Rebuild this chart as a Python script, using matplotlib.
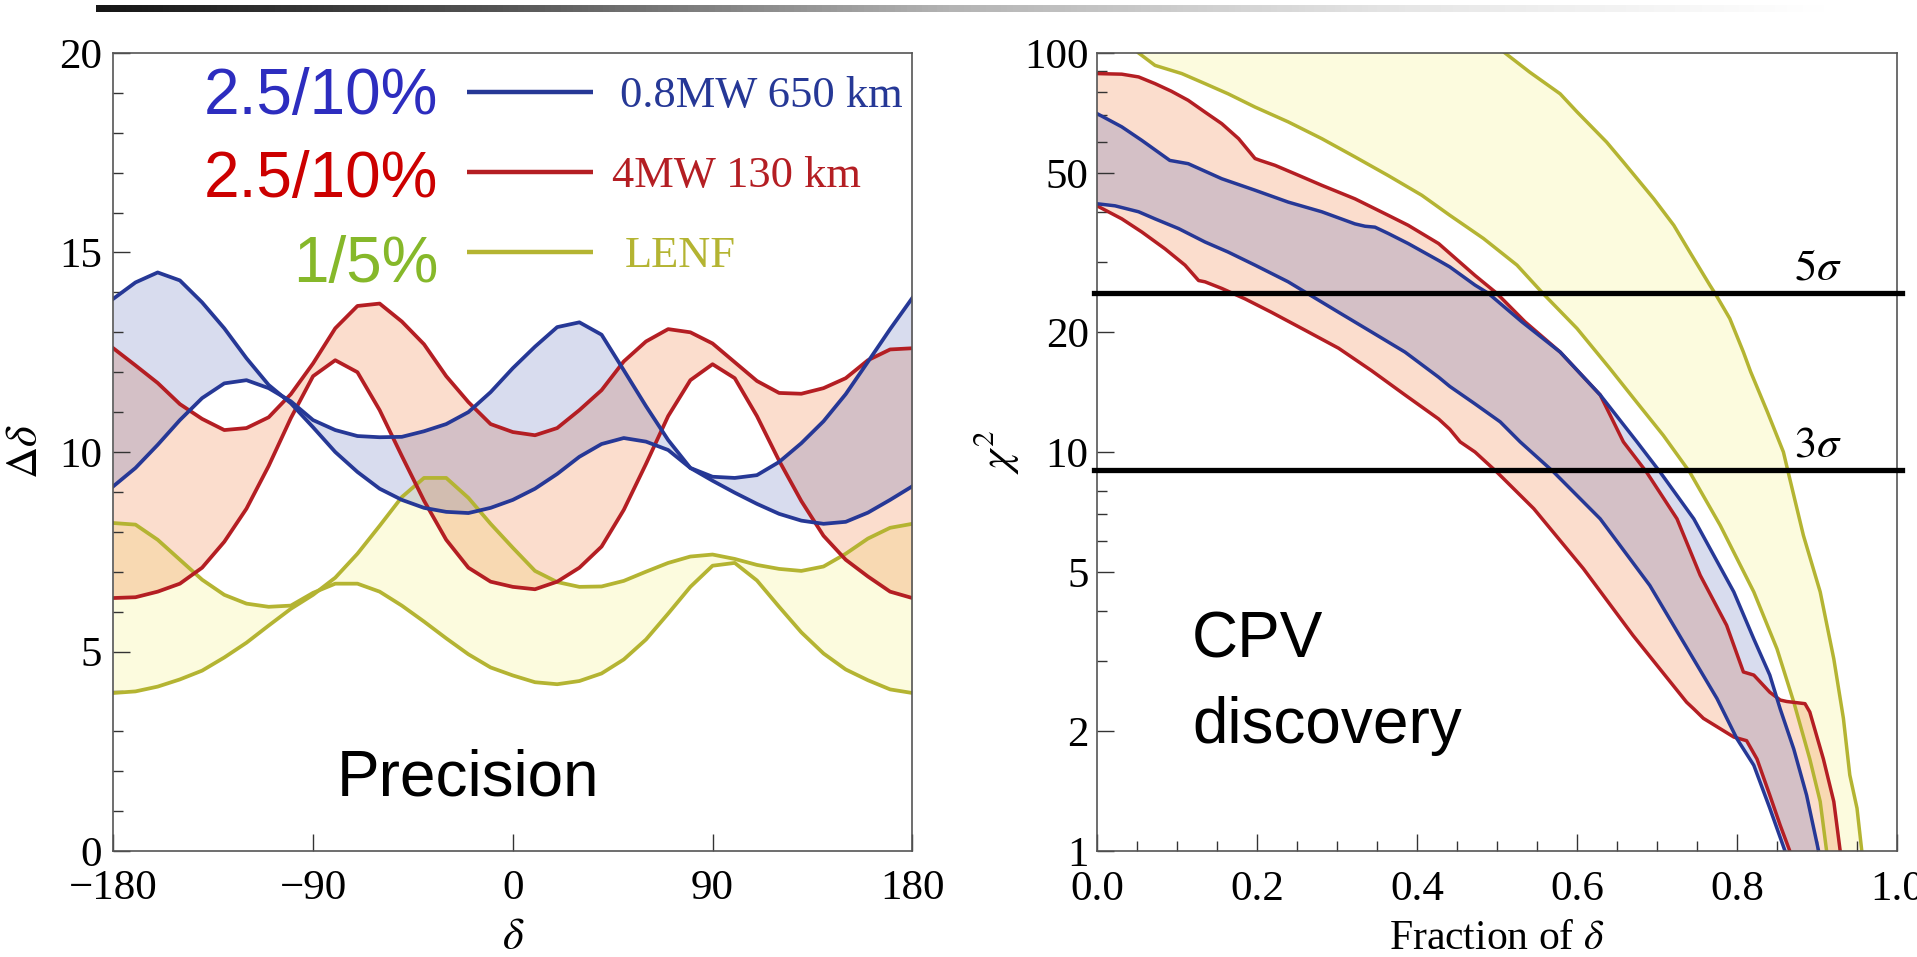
import numpy as np
import matplotlib
matplotlib.use('Agg')
import matplotlib.pyplot as plt
import matplotlib.transforms as mtransforms
from matplotlib.colors import LinearSegmentedColormap
from matplotlib.ticker import NullFormatter

plt.rcParams['font.family'] = ['Liberation Serif', 'DejaVu Serif']
plt.rcParams['mathtext.fontset'] = 'stix'

# ---------------- left panel: precision on delta ----------------
delta = [-180, -170, -160, -150, -140, -130, -120, -110, -100, -90, -80, -70, -60,
         -50, -40, -30, -20, -10, 0, 10, 20, 30, 40, 50, 60, 70, 80, 90, 100,
         110, 120, 130, 140, 150, 160, 170, 180]

# 0.8MW 650 km (blue band)
blue_a = [13.84, 14.25, 14.5, 14.3, 13.75, 13.1, 12.35, 11.68, 11.22, 10.62, 10.0, 9.5, 9.08,
          8.8, 8.6, 8.5, 8.47, 8.6, 8.8, 9.08, 9.45, 9.88, 10.2, 10.35, 10.26, 10.05, 9.6, 9.28, 8.98,
          8.7, 8.45, 8.28, 8.2, 8.25, 8.48, 8.8, 9.14]
blue_b = [9.14, 9.6, 10.18, 10.8, 11.35, 11.72, 11.8, 11.6, 11.27, 10.8, 10.55, 10.4, 10.37,
          10.38, 10.52, 10.7, 11.0, 11.5, 12.1, 12.64, 13.13, 13.25, 12.94, 12.05, 11.15, 10.3, 9.6, 9.38, 9.35,
          9.42, 9.75, 10.22, 10.77, 11.45, 12.26, 13.08, 13.86]

# 4MW 130 km (red band)
red_c = [12.6, 12.17, 11.73, 11.2, 10.83, 10.55, 10.6, 10.87, 11.45, 12.22, 13.1, 13.66, 13.72,
         13.27, 12.7, 11.9, 11.25, 10.7, 10.5, 10.42, 10.6, 11.05, 11.55, 12.27, 12.77, 13.08, 13.0, 12.72, 12.25,
         11.78, 11.48, 11.46, 11.6, 11.85, 12.3, 12.57, 12.6]
red_d = [6.34, 6.36, 6.5, 6.7, 7.1, 7.75, 8.58, 9.65, 10.85, 11.9, 12.3, 12.0, 11.05,
         9.9, 8.78, 7.8, 7.1, 6.75, 6.62, 6.56, 6.75, 7.1, 7.63, 8.55, 9.7, 10.9, 11.8, 12.2, 11.85,
         10.9, 9.78, 8.77, 7.9, 7.3, 6.88, 6.5, 6.34]

# LENF (yellow band)
yel_p = [3.96, 4.0, 4.12, 4.3, 4.52, 4.85, 5.22, 5.65, 6.07, 6.42, 6.85, 7.45, 8.15,
         8.87, 9.35, 9.35, 8.85, 8.2, 7.6, 7.02, 6.74, 6.62, 6.63, 6.77, 7.0, 7.22, 7.38, 7.43, 7.32,
         7.17, 7.07, 7.02, 7.13, 7.45, 7.83, 8.1, 8.2]
yel_q = [8.22, 8.18, 7.8, 7.3, 6.8, 6.42, 6.2, 6.12, 6.15, 6.47, 6.7, 6.7, 6.5,
         6.15, 5.75, 5.33, 4.93, 4.6, 4.4, 4.23, 4.18, 4.26, 4.45, 4.8, 5.3, 5.95, 6.62, 7.15, 7.22,
         6.78, 6.12, 5.48, 4.95, 4.55, 4.28, 4.05, 3.96]

# ---------------- right panel: CPV discovery ----------------
red_hi_x = [0.0, 0.031, 0.052, 0.0725, 0.093, 0.114, 0.135, 0.156, 0.177, 0.1975, 0.204, 0.2225,
            0.2475, 0.281, 0.3225, 0.364, 0.389, 0.427, 0.4725, 0.4996, 0.535, 0.579, 0.629, 0.658,
            0.687, 0.725, 0.754, 0.787, 0.808, 0.821, 0.841, 0.854, 0.862, 0.885, 0.891, 0.908,
            0.921, 0.929]
red_hi_y = [88.8, 88.5, 87.1, 83.8, 80.2, 76.1, 71.1, 66.5, 61.0, 54.4, 53.8, 52.3,
            49.8, 46.6, 43.1, 39.2, 37.0, 33.3, 27.7, 25.0, 21.2, 17.8, 13.9, 10.6,
            8.9, 6.8, 4.91, 3.68, 2.81, 2.76, 2.5, 2.39, 2.37, 2.34, 2.23, 1.7,
            1.33, 1.0]
red_lo_x = [0.0, 0.031, 0.056, 0.085, 0.11, 0.127, 0.135, 0.156, 0.185, 0.218, 0.26, 0.302,
            0.343, 0.385, 0.427, 0.441, 0.454, 0.4725, 0.5, 0.546, 0.608, 0.67, 0.737, 0.746,
            0.758, 0.796, 0.812, 0.825, 0.841, 0.854, 0.866]
red_lo_y = [41.4, 38.4, 35.6, 32.3, 29.4, 26.9, 26.7, 25.7, 24.2, 22.4, 20.2, 18.2,
            16.0, 13.9, 12.1, 11.4, 10.6, 10.0, 8.9, 7.21, 5.1, 3.47, 2.36, 2.27,
            2.15, 1.93, 1.89, 1.7, 1.38, 1.16, 1.0]
blue_hi_x = [0.0, 0.031, 0.056, 0.091, 0.114, 0.156, 0.1975, 0.239, 0.281, 0.3225, 0.335, 0.3475,
             0.364, 0.389, 0.427, 0.441, 0.4725, 0.489, 0.531, 0.579, 0.629, 0.675, 0.704, 0.746,
             0.796, 0.821, 0.841, 0.854, 0.871, 0.887, 0.902]
blue_hi_y = [70.5, 65.3, 60.4, 53.8, 52.8, 48.4, 45.3, 42.3, 40.0, 37.3, 36.8, 36.6,
             35.3, 33.3, 30.2, 29.1, 26.2, 25.0, 21.2, 17.8, 13.9, 10.6, 8.9, 6.8,
             4.46, 3.4, 2.76, 2.27, 1.8, 1.38, 1.0]
blue_lo_x = [0.0, 0.0225, 0.052, 0.0725, 0.102, 0.135, 0.164, 0.1975, 0.239, 0.264, 0.302, 0.343,
             0.385, 0.427, 0.441, 0.4725, 0.504, 0.529, 0.571, 0.629, 0.691, 0.733, 0.775, 0.8,
             0.821, 0.841, 0.86]
blue_lo_y = [41.9, 41.4, 40.0, 38.4, 36.3, 33.6, 31.7, 29.4, 26.7, 24.9, 22.4, 20.0,
             17.8, 15.4, 14.6, 13.2, 11.9, 10.6, 8.9, 6.8, 4.63, 3.34, 2.41, 1.91,
             1.64, 1.28, 1.0]
yel_in_x = [0.052, 0.0725, 0.106, 0.135, 0.164, 0.1975, 0.239, 0.281, 0.3225, 0.364, 0.406, 0.441,
            0.483, 0.525, 0.558, 0.6, 0.641, 0.675, 0.708, 0.741, 0.779, 0.821, 0.85, 0.871,
            0.891, 0.904, 0.912]
yel_in_y = [100, 93.1, 88.8, 83.8, 79.0, 73.2, 67.2, 61.0, 54.9, 49.3, 44.0, 39.2,
            34.3, 29.4, 24.9, 20.4, 16.2, 13.3, 11.0, 8.9, 6.55, 4.46, 3.21, 2.36,
            1.7, 1.33, 1.0]
yel_out_x = [0.51, 0.541, 0.579, 0.6, 0.637, 0.658, 0.696, 0.721, 0.741, 0.766, 0.773, 0.791,
             0.808, 0.817, 0.838, 0.858, 0.864, 0.883, 0.904, 0.921, 0.933, 0.941, 0.95, 0.956]
yel_out_y = [100, 89.5, 79.0, 71.2, 59.8, 53.3, 43.1, 37.0, 31.7, 26.2, 24.9, 21.6,
             17.8, 15.9, 12.6, 10.0, 8.9, 6.18, 4.46, 3.03, 2.15, 1.55, 1.28, 1.0]

sigma_levels = [25, 9]
sigma_labels = ['$5\\sigma$', '$3\\sigma$']

legend_big = ['2.5/10%', '2.5/10%', '1/5%']
legend_small = ['0.8MW 650 km', '4MW 130 km', 'LENF']

# colours
blue_line, red_line, yel_line = '#263896', '#b41e23', '#b4b432'
blue_fill, red_fill, yel_fill = '#3c50aa', '#eb5505', '#f0eb5a'
big_colors = ['#2d2dbf', '#cc0000', '#86b82a']
small_colors = [blue_line, red_line, yel_line]
frame = '#555555'

W, H = 1917, 957
fig = plt.figure(figsize=(W / 100, H / 100), dpi=100)

# gradient bar on top
grad = LinearSegmentedColormap.from_list(
    'bar', [(0, '#161616'), (0.22, '#555555'), (0.47, '#b4b4b4'), (0.72, '#e6e6e6'), (0.95, '#ffffff'), (1, '#ffffff')])
axg = fig.add_axes([96 / W, (H - 12) / H, (W - 96) / W, 7 / H])
axg.imshow(np.linspace(0, 1, 600)[None, :], aspect='auto', cmap=grad)
axg.axis('off')

# ---- left axes ----
ax1 = fig.add_axes([113.3 / W, (H - 851) / H, 799 / W, 798 / H])
for lo, hi, fc in [(yel_p, yel_q, yel_fill), (red_c, red_d, red_fill), (blue_a, blue_b, blue_fill)]:
    ax1.fill_between(delta, lo, hi, color=fc, alpha=0.2, lw=0)
for lo, hi, lc in [(yel_p, yel_q, yel_line), (red_c, red_d, red_line), (blue_a, blue_b, blue_line)]:
    ax1.plot(delta, lo, color=lc, lw=2.7, solid_joinstyle='round')
    ax1.plot(delta, hi, color=lc, lw=2.7, solid_joinstyle='round')

ax1.set_xlim(-180, 180)
ax1.set_ylim(0, 20)
ax1.set_xticks([-180, -90, 0, 90, 180], ['\u2212180', '\u221290', '0', '90', '180'])
ax1.set_yticks([0, 5, 10, 15, 20], ['0', '5', '10', '15', '20'])
ax1.set_yticks([v for v in range(1, 20) if v % 5], minor=True)
ax1.tick_params(axis='both', which='major', direction='in', length=12, width=1, color='#333333', labelsize=31)
ax1.tick_params(axis='y', which='major', pad=8)
ax1.tick_params(axis='x', which='major', pad=13)
ax1.tick_params(axis='y', which='minor', direction='in', length=7, width=1, color='#333333')
ax1.set_xlabel('$\\delta$', fontsize=32)
ax1.xaxis.set_label_coords(0.5, -0.084)
ax1.xaxis.label.set_va('top')
ax1.set_ylabel('$\\Delta\\delta$', fontsize=32)
ax1.yaxis.set_label_coords(-0.084, 0.5)
for s in ax1.spines.values():
    s.set_color(frame)
    s.set_linewidth(1.2)

rows_line = [0.951, 0.851, 0.7506]
rows_big = [0.9236, 0.8195, 0.7130]
rows_small = [0.9323, 0.8321, 0.7318]
small_x = [0.634, 0.624, 0.640]
for i in range(3):
    ax1.text(0.4064, rows_big[i], legend_big[i], transform=ax1.transAxes, ha='right', va='baseline',
             fontsize=46, color=big_colors[i], family=['Liberation Sans', 'DejaVu Sans'])
    ax1.plot([0.4427, 0.6004], [rows_line[i], rows_line[i]], transform=ax1.transAxes,
             color=small_colors[i], lw=3.2, solid_capstyle='butt')
    ax1.text(small_x[i], rows_small[i], legend_small[i], transform=ax1.transAxes, ha='left', va='baseline',
             fontsize=32, color=small_colors[i])
ax1.text(0.444, 0.070, 'Precision', transform=ax1.transAxes, ha='center', va='baseline',
         fontsize=46, family=['Liberation Sans', 'DejaVu Sans'])

# ---- right axes ----
ax2 = fig.add_axes([1097 / W, (H - 851) / H, 800 / W, 798 / H])
for hx, hy, lx, ly, fc in [(yel_in_x, yel_in_y, yel_out_x, yel_out_y, yel_fill),
                           (red_hi_x, red_hi_y, red_lo_x, red_lo_y, red_fill),
                           (blue_hi_x, blue_hi_y, blue_lo_x, blue_lo_y, blue_fill)]:
    ax2.fill(hx + lx[::-1], hy + ly[::-1], color=fc, alpha=0.2, lw=0)
for hx, hy, lx, ly, lc in [(yel_in_x, yel_in_y, yel_out_x, yel_out_y, yel_line),
                           (red_hi_x, red_hi_y, red_lo_x, red_lo_y, red_line),
                           (blue_hi_x, blue_hi_y, blue_lo_x, blue_lo_y, blue_line)]:
    ax2.plot(hx, hy, color=lc, lw=2.5, solid_joinstyle='round')
    ax2.plot(lx, ly, color=lc, lw=2.5, solid_joinstyle='round')

ax2.set_yscale('log')
ax2.set_xlim(0, 1)
ax2.set_ylim(1, 100)
trans = mtransforms.blended_transform_factory(ax2.transAxes, ax2.transData)
for lev, lab, yb in zip(sigma_levels, sigma_labels, [27.1, 9.75]):
    ax2.plot([-0.004, 1.006], [lev, lev], transform=trans, color='black', lw=3.8, clip_on=False, zorder=5)
    ax2.text(0.901, yb, lab, transform=trans, ha='center', va='baseline', fontsize=32)

ax2.set_xticks([0, 0.2, 0.4, 0.6, 0.8, 1.0], ['0.0', '0.2', '0.4', '0.6', '0.8', '1.0'])
ax2.set_xticks([0.05, 0.1, 0.15, 0.25, 0.3, 0.35, 0.45, 0.5, 0.55, 0.65, 0.7, 0.75, 0.85, 0.9, 0.95], minor=True)
ax2.set_yticks([1, 2, 5, 10, 20, 50, 100], ['1', '2', '5', '10', '20', '50', '100'])
ax2.set_yticks([3, 4, 6, 7, 8, 9, 30, 40, 60, 70, 80, 90], minor=True)
ax2.yaxis.set_minor_formatter(NullFormatter())
ax2.tick_params(axis='both', which='major', direction='in', length=12, width=1, color='#333333', labelsize=31)
ax2.tick_params(axis='both', which='minor', direction='in', length=7, width=1, color='#333333')
ax2.tick_params(axis='y', which='major', pad=6)
ax2.tick_params(axis='x', which='major', pad=14)
ax2.set_xlabel('Fraction of $\\delta$', fontsize=30)
ax2.xaxis.set_label_coords(0.5, -0.086)
ax2.xaxis.label.set_va('top')
ax2.set_ylabel('$\\chi^2$', fontsize=32)
ax2.yaxis.set_label_coords(-0.095, 0.5)
for s in ax2.spines.values():
    s.set_color(frame)
    s.set_linewidth(1.2)

ax2.text(0.119, 0.242, 'CPV', transform=ax2.transAxes, ha='left', va='baseline',
         fontsize=46, family=['Liberation Sans', 'DejaVu Sans'])
ax2.text(0.119, 0.135, 'discovery', transform=ax2.transAxes, ha='left', va='baseline',
         fontsize=46, family=['Liberation Sans', 'DejaVu Sans'])

fig.savefig('out.png', dpi=100)
